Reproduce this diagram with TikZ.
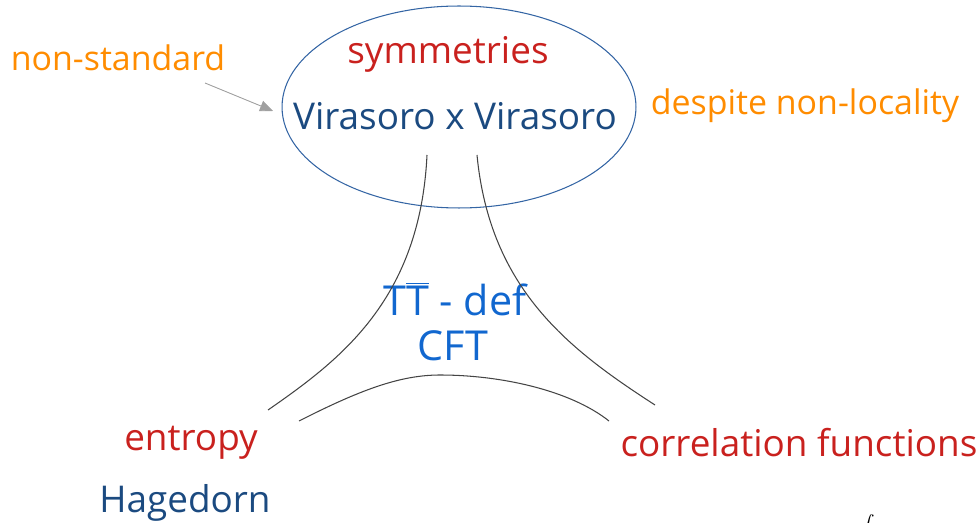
\documentclass[tikz,border=0pt]{standalone}
\usepackage{fontspec}
\setmainfont{Open Sans}
\usepackage{tikz}
\usetikzlibrary{arrows.meta, shapes.geometric}
\definecolor{hotorange}{HTML}{FF8C00}
\definecolor{deepred}{HTML}{C9211E}
\definecolor{navyink}{HTML}{1B4A80}
\definecolor{ringblue}{HTML}{3465A4}
\definecolor{brightblue}{HTML}{1167CF}
\definecolor{penline}{HTML}{444444}
\definecolor{pointgray}{HTML}{A0A0A0}
\tikzset{
  lbl/.style={inner sep=0pt, font=\fontsize{21}{24}\selectfont},
  remark/.style={inner sep=0pt, font=\fontsize{19.3}{22}\selectfont, text=hotorange},
  topic/.style={lbl, text=deepred},
  algebra/.style={lbl, text=navyink},
  core/.style={inner sep=0pt, font=\fontsize{23.5}{26}\selectfont, text=brightblue},
  ring/.style={draw=ringblue, ellipse, line width=0.6pt, minimum width=7.08cm, minimum height=4.04cm},
  edge/.style={draw=penline, line width=0.6pt},
  pointer/.style={-{Triangle[length=2.6mm, width=2.2mm]}, draw=pointgray, fill=pointgray, line width=0.5pt}
}
\begin{document}
\begin{tikzpicture}[x=0.02cm, y=-0.02cm]
\useasboundingbox (0,0) rectangle (980,523);
% the algebra bubble on top
\node[ring] (bubble) at (459,107) {};
\node[topic] (sym) at (448,54) {symmetries};
\node[algebra] (vir) at (455,116) {Virasoro x Virasoro};
\node[remark] (nonstd) at (118,58) {non-standard};
\node[remark] (despite) at (805,106) {despite non-locality};
\coordinate (ptr) at (205,83);
\coordinate (ptrend) at (273,111);
\draw[pointer] (ptr) -- (ptrend);
% centre of the triangle
\node[core] (ttdef) at (455,299) {T$\overline{\hbox{T}}$ - def};
\node[core] (cft) at (453,346) {CFT};
% corners
\node[topic] (entropy) at (191,443) {entropy};
\node[algebra] (hage) at (185,503) {Hagedorn};
\node[topic] (corr) at (799,443) {correlation functions};
% curved sides
\draw[edge] (427,155) .. controls (420,300) and (340,360) .. (268,410);
\draw[edge] (477,155) .. controls (490,290) and (570,350) .. (655,405);
\draw[edge] (299,421) .. controls (360,390) and (400,375) .. (440,375)
  .. controls (500,375) and (570,390) .. (609,421);
\node[inner sep=0pt, font=\large] (intsign) at (866,534) {$\displaystyle\int$};
\end{tikzpicture}
\end{document}
